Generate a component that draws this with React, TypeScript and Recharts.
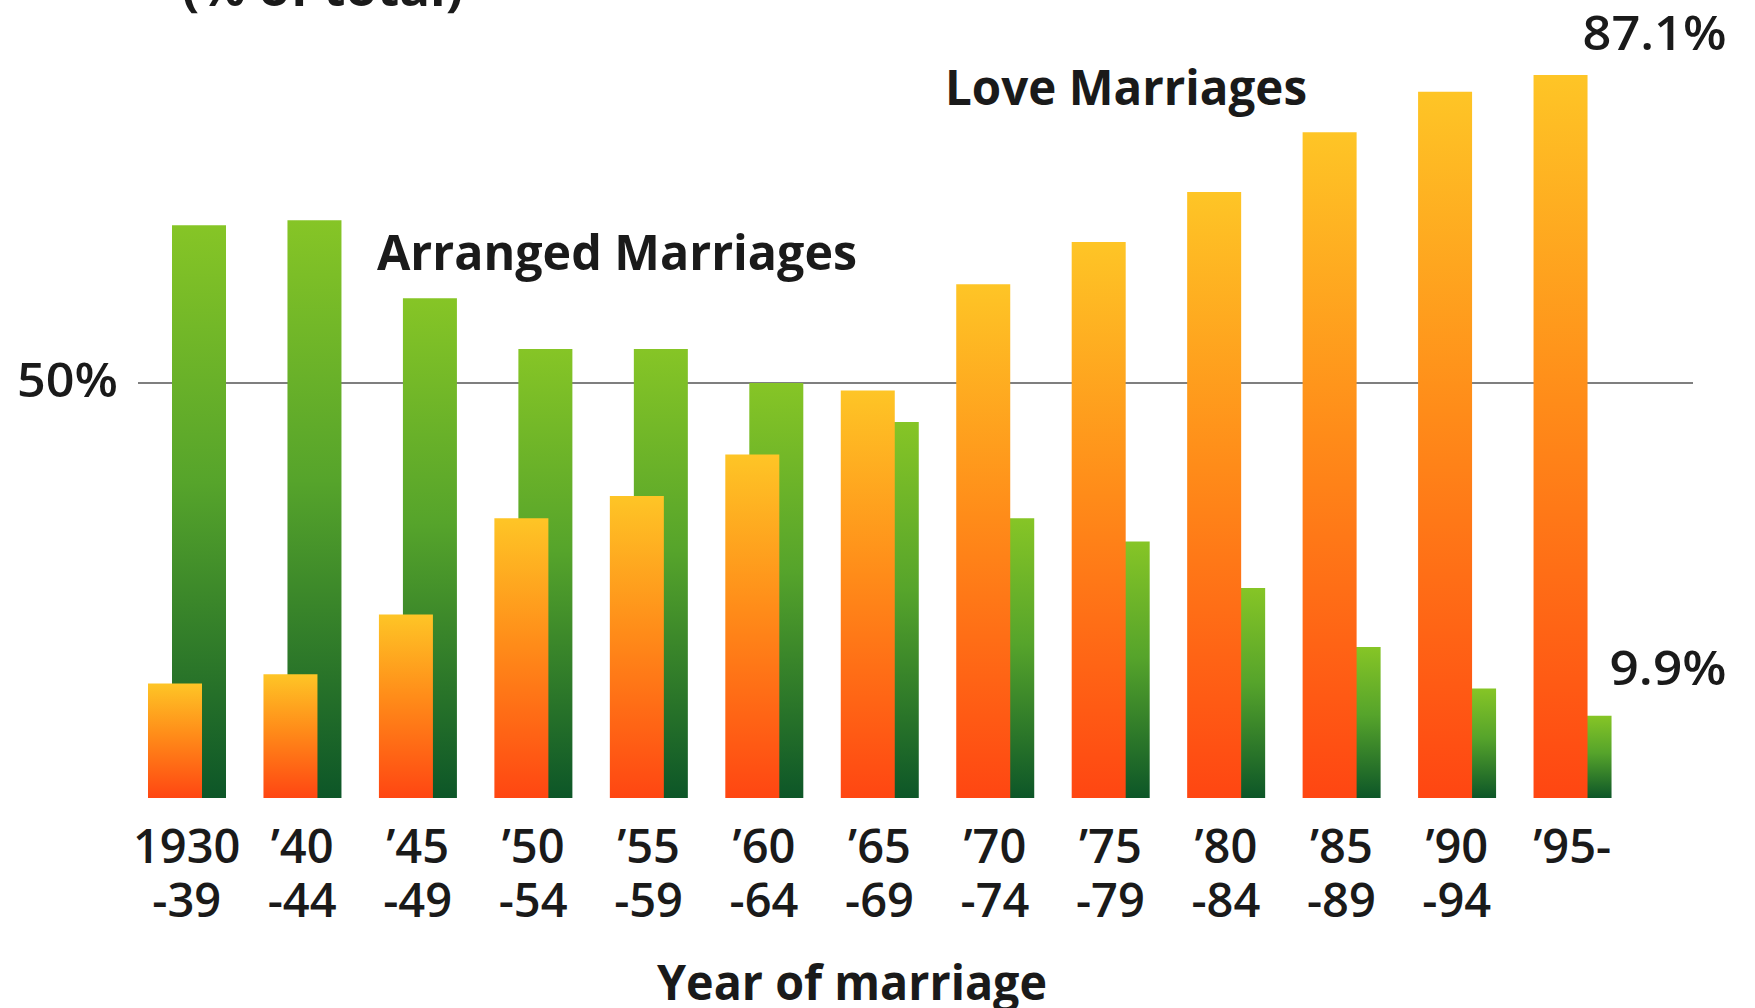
import React from 'react';
import { BarChart, Bar, XAxis, YAxis, CartesianGrid, LabelList } from 'recharts';

// Marriage periods, split over two tick lines
const periodStart = ['1930', '’40', '’45', '’50', '’55', '’60', '’65', '’70', '’75', '’80', '’85', '’90', '’95-'];
const periodEnd = ['-39', '-44', '-49', '-54', '-59', '-64', '-69', '-74', '-79', '-84', '-89', '-94', ''];

// Share of marriages (% of total)
const arranged = [69.0, 69.6, 60.2, 54.1, 54.1, 50.0, 45.3, 33.7, 30.9, 25.3, 18.2, 13.2, 9.9];
const love = [13.8, 14.9, 22.1, 33.7, 36.4, 41.4, 49.1, 61.9, 67.0, 73.0, 80.2, 85.1, 87.1];

const yTicks = [50];

const periodKeys = periodStart.map((s, i) => s + periodEnd[i]);
const data = periodKeys.map((period, i) => ({ period, arranged: arranged[i], love: love[i] }));

const FONT = '"Open Sans", "Noto Sans", sans-serif';
const INK = '#1a1a1a';
const LAST = data.length - 1;

const PeriodTick = (props: any) => {
  const { x, y, payload } = props;
  const i = periodKeys.indexOf(payload.value);
  const common = { fontFamily: FONT, fontWeight: 600, fontSize: 47, fill: INK, textAnchor: 'middle' as const };
  return (
    <g>
      <text x={x} y={y + 65} {...common}>{periodStart[i]}</text>
      {periodEnd[i] ? <text x={x} y={y + 119} {...common}>{periodEnd[i]}</text> : null}
    </g>
  );
};

const PercentTick = (props: any) => {
  const { x, y, payload } = props;
  return (
    <text x={x} y={y + 14} textAnchor="end" fontFamily={FONT} fontWeight={600} fontSize={47} fill={INK}
      textLength={101} lengthAdjust="spacingAndGlyphs">
      {`${payload.value}%`}
    </text>
  );
};

const isLastBar = (p: any, series: number[]) =>
  p.index === LAST || (p.index === undefined && p.value === series[LAST]);

const LoveEndLabel = (p: any) => {
  if (!isLastBar(p, love)) return null;
  return (
    <text x={Number(p.x) + Number(p.width) + 139} y={Number(p.y) - 25} textAnchor="end" fontFamily={FONT}
      fontWeight={600} fontSize={47} fill={INK} textLength={144} lengthAdjust="spacingAndGlyphs">
      {`${p.value}%`}
    </text>
  );
};

const ArrangedEndLabel = (p: any) => {
  if (!isLastBar(p, arranged)) return null;
  return (
    <text x={Number(p.x) + Number(p.width) + 115} y={Number(p.y) - 31} textAnchor="end" fontFamily={FONT}
      fontWeight={600} fontSize={47} fill={INK} textLength={117} lengthAdjust="spacingAndGlyphs">
      {`${p.value}%`}
    </text>
  );
};

const GridLine = (p: any) => (
  <line key={p.key} x1={Number(p.x1) + 9} y1={p.y1} x2={p.x2} y2={p.y2} stroke="#7f7f7f" strokeWidth={2} />
);

const textStyle = { fontFamily: FONT, fontWeight: 700, fontSize: 48, fill: INK };

export default function App() {
  return (
    <div style={{ position: 'absolute', left: 0, top: 0, width: 1755, height: 1008, background: '#ffffff' }}>
      <BarChart
        width={1755}
        height={1008}
        data={data}
        margin={{ top: 51, right: 62, bottom: 0, left: 0 }}
        barGap={-78}
      >
        <defs>
          <linearGradient id="arrangedFill" x1="0" y1="0" x2="0" y2="1">
            <stop offset="0" stopColor="#86c526" />
            <stop offset="0.45" stopColor="#56a42b" />
            <stop offset="1" stopColor="#0d5628" />
          </linearGradient>
          <linearGradient id="loveFill" x1="0" y1="0" x2="0" y2="1">
            <stop offset="0" stopColor="#fec526" />
            <stop offset="0.45" stopColor="#ff8c19" />
            <stop offset="1" stopColor="#ff4612" />
          </linearGradient>
        </defs>
        <CartesianGrid vertical={false} horizontalValues={yTicks} horizontal={GridLine} />
        <XAxis
          dataKey="period"
          height={210}
          axisLine={false}
          tickLine={false}
          tickSize={0}
          tickMargin={0}
          interval={0}
          padding={{ left: 0, right: 63 }}
          tick={PeriodTick}
        />
        <YAxis
          width={129}
          domain={[0, 90]}
          ticks={yTicks}
          axisLine={false}
          tickLine={false}
          tickSize={0}
          tickMargin={11}
          tick={PercentTick}
        />
        <Bar dataKey="arranged" barSize={54} fill="url(#arrangedFill)" isAnimationActive={false}>
          <LabelList dataKey="arranged" content={ArrangedEndLabel} />
        </Bar>
        <Bar dataKey="love" barSize={54} fill="url(#loveFill)" isAnimationActive={false}>
          <LabelList dataKey="love" content={LoveEndLabel} />
        </Bar>
      </BarChart>
      <svg width={1755} height={1008} style={{ position: 'absolute', left: 0, top: 0, pointerEvents: 'none' }}>
        <text x={182} y={6} textLength={281} lengthAdjust="spacingAndGlyphs" {...textStyle}>(% of total)</text>
        <text x={945} y={105} textLength={362} lengthAdjust="spacingAndGlyphs" {...textStyle}>Love Marriages</text>
        <text x={377} y={270} textLength={480} lengthAdjust="spacingAndGlyphs" {...textStyle}>Arranged Marriages</text>
        <text x={657} y={1000} textLength={390} lengthAdjust="spacingAndGlyphs" {...textStyle}>Year of marriage</text>
      </svg>
    </div>
  );
}
